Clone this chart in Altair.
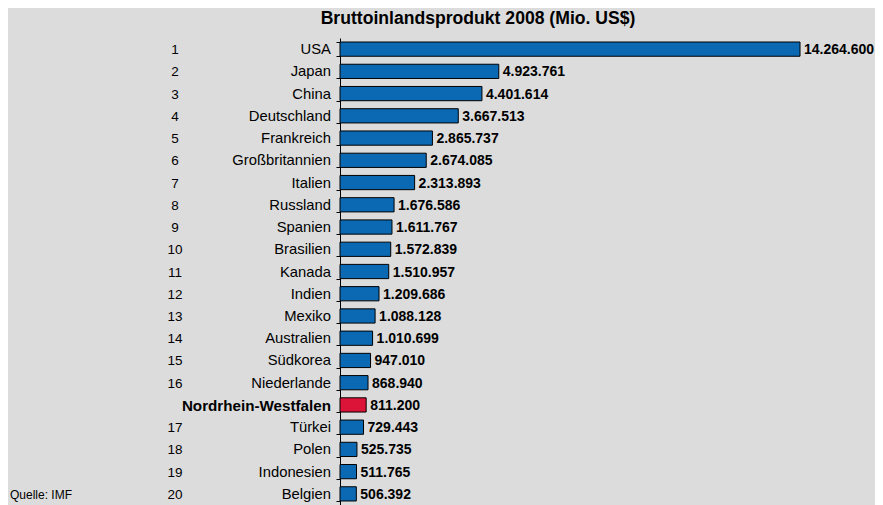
import altair as alt
import pandas as pd

countries = ["USA", "Japan", "China", "Deutschland", "Frankreich", "Großbritannien", "Italien",
             "Russland", "Spanien", "Brasilien", "Kanada", "Indien", "Mexiko", "Australien",
             "Südkorea", "Niederlande", "Nordrhein-Westfalen", "Türkei", "Polen", "Indonesien", "Belgien"]
values = [14264600, 4923761, 4401614, 3667513, 2865737, 2674085, 2313893, 1676586, 1611767,
          1572839, 1510957, 1209686, 1088128, 1010699, 947010, 868940, 811200, 729443, 525735,
          511765, 506392]
ranks = ["1", "2", "3", "4", "5", "6", "7", "8", "9", "10", "11", "12", "13", "14", "15", "16",
         "", "17", "18", "19", "20"]
highlight = "Nordrhein-Westfalen"

df = pd.DataFrame({"land": countries, "wert": values, "rang": ranks})
df["hl"] = df["land"] == highlight

W, H = 460, 467
FONT = "Liberation Sans"

yenc = alt.Y("land:N", sort=countries, title=None,
             scale=alt.Scale(paddingInner=0.36, paddingOuter=0.18),
             axis=alt.Axis(labels=False, tickBand="extent", tickSize=4, tickColor="black",
                           domainColor="black", grid=False, title=None))

base = alt.Chart(df)

bars = base.mark_bar(stroke="black", strokeWidth=1).encode(
    x=alt.X("wert:Q", scale=alt.Scale(domain=[0, 14264600], nice=False), axis=None),
    y=yenc,
    color=alt.condition("datum.hl", alt.value("#dc1438"), alt.value("#0b69b4")),
)

vals = base.transform_calculate(
    lab="replace(format(datum.wert, ','), regexp(',', 'g'), '.')"
).mark_text(align="left", baseline="middle", dx=4, dy=1, fontWeight="bold", fontSize=14,
            font=FONT, color="black").encode(
    x="wert:Q", y=alt.Y("land:N", sort=countries), text="lab:N")

names = base.transform_filter("!datum.hl").mark_text(
    align="right", baseline="middle", dy=1, fontSize=14.8, font=FONT,
    color="black").encode(
    x=alt.value(-9), y=alt.Y("land:N", sort=countries), text="land:N")

names_hl = base.transform_filter("datum.hl").mark_text(
    align="right", baseline="middle", dy=1, fontSize=15.2, font=FONT, fontWeight="bold",
    color="black").encode(
    x=alt.value(-9), y=alt.Y("land:N", sort=countries), text="land:N")

rk = base.mark_text(align="center", baseline="middle", dy=1, fontSize=13.5, font=FONT,
                    color="black").encode(
    x=alt.value(-165), y=alt.Y("land:N", sort=countries), text="rang:N")

title = alt.Chart(pd.DataFrame({"t": ["Bruttoinlandsprodukt 2008 (Mio. US$)"]})).mark_text(
    align="center", baseline="middle", fontSize=17.6, fontWeight="bold", font=FONT,
    color="black").encode(x=alt.value(138), y=alt.value(-19), text="t:N")

quelle = alt.Chart(pd.DataFrame({"t": ["Quelle: IMF"]})).mark_text(
    align="left", baseline="middle", fontSize=12, font=FONT,
    color="black").encode(x=alt.value(-330), y=alt.value(457), text="t:N")

chart = alt.layer(bars, vals, names, names_hl, rk, title, quelle).properties(
    width=W, height=H,
    autosize=alt.AutoSizeParams(type="none"),
    padding={"left": 332, "top": 30, "right": 75, "bottom": 0},
    background="#dcdcdc",
).configure_view(stroke=None)

chart.save("out.html", embed_options={"renderer": "svg", "actions": False})
